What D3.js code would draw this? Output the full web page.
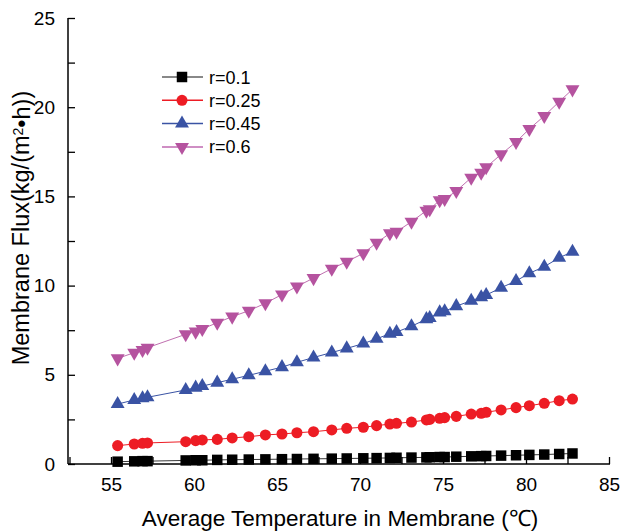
<!DOCTYPE html>
<html>
<head>
<meta charset="utf-8">
<script src="https://cdn.jsdelivr.net/npm/d3@7"></script>
<style>
  body { margin: 0; background: #fff; }
  svg { display: block; font-family: "Liberation Sans", Arial, sans-serif; }
</style>
</head>
<body>
<script>
// temperatures (x), shared by all series
let temps = [55.4, 56.4, 56.9, 57.2, 59.5, 60.1, 60.5, 61.4, 62.3, 63.3, 64.3, 65.3, 66.2, 67.2, 68.3, 69.2,
    70.2, 71.0, 71.8, 72.2, 73.1, 74.0, 74.2, 74.8, 75.1, 75.8, 76.7, 77.3, 77.6, 78.5, 79.4, 80.2, 81.1, 82.0, 82.8];

let flux01 = [0.13, 0.15, 0.16, 0.16, 0.2, 0.21, 0.21, 0.23, 0.24, 0.25, 0.26, 0.27, 0.28, 0.29, 0.3, 0.31,
    0.32, 0.33, 0.34, 0.35, 0.36, 0.37, 0.38, 0.39, 0.39, 0.41, 0.43, 0.44, 0.45, 0.47, 0.49, 0.51, 0.53, 0.56, 0.59];
let flux025 = [1.03, 1.12, 1.16, 1.18, 1.25, 1.31, 1.35, 1.38, 1.46, 1.53, 1.63, 1.68, 1.75, 1.81, 1.91, 2.0,
    2.06, 2.15, 2.24, 2.28, 2.35, 2.47, 2.5, 2.56, 2.6, 2.67, 2.8, 2.84, 2.9, 3.03, 3.16, 3.27, 3.4, 3.55, 3.64];
let flux045 = [3.36, 3.59, 3.68, 3.74, 4.15, 4.28, 4.37, 4.56, 4.75, 4.97, 5.2, 5.43, 5.7, 5.97, 6.25, 6.48,
    6.75, 7.02, 7.3, 7.4, 7.72, 8.12, 8.18, 8.5, 8.56, 8.85, 9.15, 9.35, 9.47, 9.88, 10.26, 10.69, 11.06, 11.56, 11.9];
let flux06 = [5.92, 6.24, 6.39, 6.52, 7.27, 7.42, 7.57, 7.92, 8.26, 8.59, 9.01, 9.5, 9.95, 10.42, 10.95, 11.34,
    11.81, 12.4, 12.93, 13.02, 13.58, 14.2, 14.28, 14.78, 14.85, 15.3, 16.05, 16.33, 16.63, 17.36, 18.05, 18.78, 19.51, 20.31, 21.0];

let seriesNames = ["r=0.1", "r=0.25", "r=0.45", "r=0.6"];
let xTicks = [55, 60, 65, 70, 75, 80, 85];
let yTicks = [0, 5, 10, 15, 20, 25];

let w = 620;
let h = 531;

const svg = d3.select("body")
    .append("svg")
    .attr("width", w)
    .attr("height", h);

const xScale = d3.scaleLinear()
    .domain([52.41, 85.06])
    .range([68, 610]);

const yScale = d3.scaleLinear()
    .domain([0, 25])
    .range([464, 18]);

let series = [
    { name: seriesNames[0], values: flux01, fill: "#000000", line: "#3a3a3a", legendLine: "#606060", shape: d3.symbolSquare, size: 110, rot: 0 },
    { name: seriesNames[1], values: flux025, fill: "#ed1c24", line: "#ed1c24", legendLine: "#ed1c24", shape: d3.symbolCircle, size: 96, rot: 0 },
    { name: seriesNames[2], values: flux045, fill: "#3a53a4", line: "#3a53a4", legendLine: "#3a53a4", shape: d3.symbolTriangle, size: 84, rot: 0 },
    { name: seriesNames[3], values: flux06, fill: "#b5539f", line: "#c070b0", legendLine: "#cf8ec4", shape: d3.symbolTriangle, size: 84, rot: 180 }
];

const line = d3.line()
    .x((d) => xScale(d[0]))
    .y((d) => yScale(d[1]));

series.forEach(function (s) {
    let pts = temps.map((t, i) => [t, s.values[i]]);
    let g = svg.append("g");
    g.append("path")
        .attr("d", line(pts))
        .attr("fill", "none")
        .attr("stroke", s.line)
        .attr("stroke-width", 1);
    g.selectAll("path.pt")
        .data(pts)
        .enter()
        .append("path")
        .attr("class", "pt")
        .attr("d", d3.symbol().type(s.shape).size(s.size))
        .attr("transform", (d) => "translate(" + xScale(d[0]) + "," + yScale(d[1]) + ") rotate(" + s.rot + ")")
        .attr("fill", s.fill);
});

// axes, ticks inward
let xMinor = d3.range(52.5, 85.01, 2.5);
let yMinor = d3.range(0, 25.01, 2.5);

const xAxis = d3.axisBottom(xScale)
    .tickValues(xMinor)
    .tickSize(-7)
    .tickPadding(14)
    .tickFormat((d) => xTicks.includes(d) ? d : "");

const yAxis = d3.axisLeft(yScale)
    .tickValues(yMinor)
    .tickSize(-7)
    .tickPadding(13)
    .tickFormat((d) => yTicks.includes(d) ? d : "");

svg.append("g")
    .attr("transform", "translate(0," + yScale(0) + ")")
    .call(xAxis)
    .call(g => g.select(".domain").attr("d", "M68,0H610").attr("stroke-width", 1.5))
    .call(g => g.selectAll(".tick line").attr("stroke-width", 1.3))
    .selectAll("text")
    .style("font-size", "19px")
    .attr("fill", "#000");

svg.append("g")
    .attr("transform", "translate(" + xScale.range()[0] + ",0)")
    .call(yAxis)
    .call(g => g.select(".domain").attr("d", "M0,18V464").attr("stroke-width", 1.5))
    .call(g => g.selectAll(".tick line").attr("stroke-width", 1.3))
    .selectAll("text")
    .style("font-size", "19px")
    .attr("fill", "#000");

// axis titles
svg.append("text")
    .attr("x", 340)
    .attr("y", 526)
    .attr("text-anchor", "middle")
    .style("font-size", "22.5px")
    .text("Average Temperature in Membrane (\u2103)");

let yTitle = svg.append("text")
    .attr("transform", "translate(29,228) rotate(-90)")
    .attr("text-anchor", "middle")
    .style("font-size", "23.5px");
yTitle.append("tspan").text("Membrane Flux(kg/(m");
yTitle.append("tspan").attr("dy", "-0.45em").style("font-size", "14px").text("2");
yTitle.append("tspan").attr("dy", "0.3em").text("\u2022h))");

// legend
let legend = svg.append("g").attr("id", "legend");
let rows = legend.selectAll("g")
    .data(series)
    .enter()
    .append("g")
    .attr("transform", (d, i) => "translate(162," + (77 + i * 23.3) + ")");

rows.append("line")
    .attr("x1", 0).attr("x2", 41)
    .attr("stroke", (d) => d.legendLine)
    .attr("stroke-width", (d, i) => i == 3 ? 2 : 1.5);

rows.append("path")
    .attr("d", (d) => d3.symbol().type(d.shape).size(d.size)())
    .attr("transform", (d) => "translate(20,0) rotate(" + d.rot + ")")
    .attr("fill", (d) => d.fill);

rows.append("text")
    .attr("x", 47)
    .attr("y", 6.5)
    .style("font-size", "18px")
    .text((d) => d.name);
</script>
</body>
</html>
